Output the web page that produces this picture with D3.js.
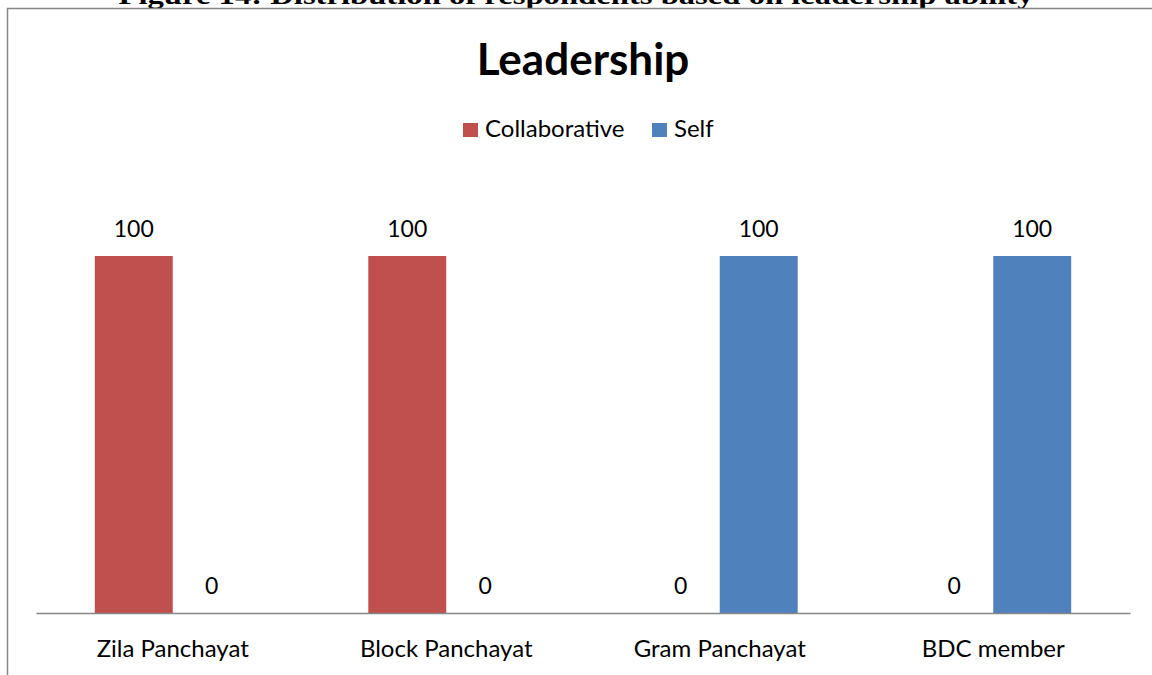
<!DOCTYPE html>
<html>
<head>
<meta charset="utf-8">
<script src="https://cdn.jsdelivr.net/npm/d3@7"></script>
<style>
  body { margin: 0; background: #fff; }
  svg { display: block; }
</style>
</head>
<body>
<svg id="canvas"></svg>
<script>
let categories = ['Zila Panchayat', 'Block Panchayat', 'Gram Panchayat', 'BDC member']
let seriesNames = ['Collaborative', 'Self']
let collaborative = [100, 100, 0, 0]
let selfValues = [0, 0, 100, 100]
let colors = ['#C0504D', '#4F81BD']

let width = 1152
let height = 675
let chartFont = 'Lato, "Open Sans", sans-serif'

let canvas = d3.select('#canvas')
canvas.attr('width', width)
      .attr('height', height)

// caption of the document page, cut off at the top
canvas.append('text')
      .attr('x', 576)
      .attr('y', 3.5)
      .attr('text-anchor', 'middle')
      .attr('font-family', '"Liberation Serif", "Times New Roman", serif')
      .attr('font-weight', 'bold')
      .attr('font-size', 26)
      .attr('textLength', 915)
      .attr('lengthAdjust', 'spacingAndGlyphs')
      .text('Figure 14: Distribution of respondents based on leadership ability')

// chart frame
canvas.append('rect')
      .attr('x', 7.5)
      .attr('y', 8.5)
      .attr('width', 1200)
      .attr('height', 700)
      .attr('fill', 'none')
      .attr('stroke', '#878787')
      .attr('stroke-width', 1.5)

let rows = categories.map((c, i) => ({ category: c, values: [collaborative[i], selfValues[i]] }))

let xScale = d3.scaleBand()
               .domain(categories)
               .range([36, 1130])
               .paddingInner(0.43)
               .paddingOuter(0.215)

let xInner = d3.scaleBand()
               .domain(seriesNames)
               .range([0, xScale.bandwidth()])

let yScale = d3.scaleLinear()
               .domain([0, 120])
               .range([613, 184.6])

let groups = canvas.selectAll('.group')
                   .data(rows)
                   .enter()
                   .append('g')
                   .attr('class', 'group')
                   .attr('transform', (d) => 'translate(' + xScale(d.category) + ',0)')

groups.selectAll('rect')
      .data((d) => d.values.map((v, j) => ({ name: seriesNames[j], value: v, idx: j })))
      .enter()
      .append('rect')
      .attr('x', (d) => xInner(d.name))
      .attr('width', xInner.bandwidth())
      .attr('y', (d) => yScale(d.value))
      .attr('height', (d) => yScale(0) - yScale(d.value))
      .attr('fill', (d) => colors[d.idx])

groups.selectAll('.label')
      .data((d) => d.values.map((v, j) => ({ name: seriesNames[j], value: v })))
      .enter()
      .append('text')
      .attr('class', 'label')
      .attr('x', (d) => xInner(d.name) + xInner.bandwidth() / 2)
      .attr('y', (d) => yScale(d.value) - 19)
      .attr('text-anchor', 'middle')
      .attr('font-family', chartFont)
      .attr('font-size', 23)
      .attr('fill', '#000')
      .text((d) => d.value)

// x axis
let xAxis = d3.axisBottom(xScale).tickSize(0).tickPadding(27)
let axisG = canvas.append('g')
                  .attr('transform', 'translate(0,' + yScale(0) + ')')
                  .call(xAxis)
axisG.select('.domain').attr('stroke', '#868686').attr('stroke-width', 1.5)
axisG.selectAll('text')
     .attr('font-family', chartFont)
     .attr('font-size', 24)
     .attr('fill', '#000')

// title
canvas.append('text')
      .attr('x', 583)
      .attr('y', 75)
      .attr('text-anchor', 'middle')
      .attr('font-family', chartFont)
      .attr('font-weight', 'bold')
      .attr('font-size', 44)
      .text('Leadership')

// legend
let legendItems = [
    { name: seriesNames[0], x: 463 },
    { name: seriesNames[1], x: 652 }
]
let legend = canvas.selectAll('.legend')
                   .data(legendItems)
                   .enter()
                   .append('g')
                   .attr('class', 'legend')
                   .attr('transform', (d) => 'translate(' + d.x + ',123)')
legend.append('rect')
      .attr('width', 15)
      .attr('height', 14)
      .attr('fill', (d, i) => colors[i])
legend.append('text')
      .attr('x', 22)
      .attr('y', 14)
      .attr('font-family', chartFont)
      .attr('font-size', 24)
      .text((d) => d.name)
</script>
</body>
</html>
